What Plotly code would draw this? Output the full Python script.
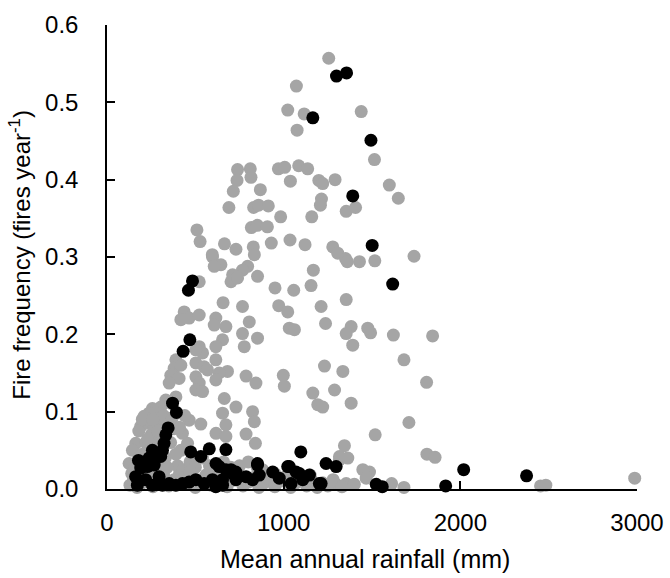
import plotly.graph_objects as go

# Gray series (all sites)
gray_x = [1255, 1072, 1023, 1116, 1439, 1076, 1514,
          739, 811, 736, 815, 970, 1006, 1085, 1136, 1038, 1199, 1221, 1291, 715, 868, 1214, 1208,
          690, 830, 858, 913, 983, 1159, 1354, 1407, 509, 527, 817, 851, 908, 665, 730, 828, 930,
          1036, 1121, 1278, 596,
          1598, 1649, 1738, 1516, 1492, 1621, 1843, 1681, 1809, 1709, 1518, 1811, 1857, 2987,
          2454, 2484, 1611, 1681, 1486,
          1306, 1350, 1360, 1429, 834, 796, 852, 767, 1168, 951, 1057, 1155, 767, 972, 1023, 1212,
          1354, 805, 1032, 1061, 1237, 1382, 1476,
          597, 645, 607, 711, 702, 739, 522, 657, 437, 418, 465, 522, 616, 607, 673, 1354, 1391,
          767, 852, 777, 654, 616, 522, 541, 503, 390, 380, 418, 361, 408, 352, 616, 503, 550,
          569, 682, 635, 616, 787, 843, 503, 522, 503, 541, 998, 1004, 1231, 1335, 1165, 1288,
          1193, 1221, 1382, 664, 730, 654, 824, 834,
          390, 361, 333, 305, 286, 257, 238, 210, 229, 191, 465, 531, 673, 617, 673, 787, 840,
          1344, 427, 456, 418, 163, 144, 181, 125, 153, 1316, 1363, 1448, 1316, 1467, 1297, 1354, 880,
          130, 150, 170, 200, 230, 260, 290, 320, 350, 380, 410, 440, 470, 500, 530, 560, 590,
          620, 650, 680, 710, 740, 770, 800, 830, 860, 890, 920, 950, 980, 1010, 1040, 1070,
          1100, 1130, 1160, 1190, 1220, 1250, 1280, 1330, 1400,
          140, 170, 200, 220, 250, 270, 300, 320, 350, 380, 300, 280, 240, 210, 330, 360, 390,
          400, 430, 470, 500, 540, 580, 620, 660, 700, 750, 800, 850, 950, 1050, 1150,
          180, 200, 230, 260, 290, 330, 370, 410, 440, 260, 290, 310, 340, 440, 470]
gray_y = [0.557, 0.521, 0.490, 0.485, 0.488, 0.464, 0.426,
          0.413, 0.414, 0.399, 0.403, 0.414, 0.416, 0.418, 0.414, 0.398, 0.399, 0.395, 0.400, 0.385, 0.387, 0.375, 0.367,
          0.364, 0.364, 0.367, 0.366, 0.352, 0.352, 0.359, 0.364, 0.335, 0.320, 0.338, 0.341, 0.339, 0.317, 0.310, 0.313, 0.318,
          0.322, 0.316, 0.313, 0.303,
          0.393, 0.376, 0.301, 0.295, 0.202, 0.199, 0.198, 0.167, 0.138, 0.086, 0.070, 0.045, 0.041, 0.014,
          0.004, 0.005, 0.007, 0.002, 0.022,
          0.305, 0.298, 0.294, 0.294, 0.303, 0.288, 0.275, 0.283, 0.283, 0.260, 0.257, 0.263, 0.236, 0.237, 0.229, 0.236,
          0.245, 0.216, 0.208, 0.206, 0.214, 0.210, 0.208,
          0.300, 0.290, 0.288, 0.277, 0.268, 0.273, 0.268, 0.241, 0.229, 0.219, 0.221, 0.225, 0.221, 0.212, 0.210, 0.201, 0.186,
          0.201, 0.195, 0.184, 0.193, 0.184, 0.184, 0.176, 0.180, 0.167, 0.156, 0.160, 0.147, 0.143, 0.137, 0.167, 0.163, 0.158,
          0.154, 0.152, 0.150, 0.141, 0.146, 0.137, 0.145, 0.137, 0.128, 0.126, 0.147, 0.133, 0.159, 0.152, 0.124, 0.128,
          0.109, 0.106, 0.111, 0.117, 0.106, 0.098, 0.100, 0.087,
          0.119, 0.111, 0.115, 0.106, 0.100, 0.104, 0.098, 0.094, 0.085, 0.081, 0.089, 0.084, 0.083, 0.072, 0.068, 0.071, 0.059,
          0.056, 0.072, 0.059, 0.050, 0.059, 0.050, 0.042, 0.033, 0.025, 0.038, 0.040, 0.025, 0.042, 0.014, 0.006, 0.007, 0.025,
          0.005, 0.012, 0.002, 0.008, 0.015, 0.003, 0.010, 0.018, 0.004, 0.012, 0.020, 0.006, 0.014, 0.002, 0.010, 0.018, 0.005,
          0.013, 0.021, 0.003, 0.011, 0.017, 0.004, 0.009, 0.015, 0.002, 0.008, 0.013, 0.003, 0.010, 0.016, 0.002, 0.008,
          0.014, 0.004, 0.011, 0.002, 0.008, 0.004, 0.012, 0.003, 0.006,
          0.020, 0.030, 0.045, 0.060, 0.070, 0.080, 0.088, 0.095, 0.085, 0.078, 0.065, 0.055, 0.040, 0.028, 0.040, 0.060, 0.045,
          0.030, 0.025, 0.035, 0.028, 0.040, 0.030, 0.025, 0.035, 0.028, 0.030, 0.035, 0.028, 0.020, 0.022, 0.018,
          0.075, 0.090, 0.065, 0.090, 0.075, 0.070, 0.092, 0.080, 0.095, 0.020, 0.030, 0.022, 0.028, 0.015, 0.022]

# Black series (subset)
black_x = [1299, 1356, 1165, 1494, 1391, 1501, 1617, 2019, 2375, 1917, 1524, 1558,
           484, 461, 469, 431, 371, 393,
           346, 333, 323, 314, 304, 257, 276, 238, 267, 229, 178, 191,
           474, 531, 579, 673, 1097, 1240, 1297,
           162, 172, 219, 257, 295, 314, 352, 390, 427, 465, 503, 550, 597, 616, 654,
           635, 673, 711, 654, 730, 787, 824, 852, 862, 938, 975, 1032, 1042, 1089, 1108, 1146, 1202,
           617, 702, 730, 852, 1023, 1070, 1212]
black_y = [0.534, 0.538, 0.480, 0.451, 0.379, 0.315, 0.265, 0.025, 0.017, 0.004, 0.006, 0.003,
           0.269, 0.257, 0.193, 0.178, 0.111, 0.099,
           0.079, 0.070, 0.059, 0.050, 0.042, 0.050, 0.042, 0.040, 0.031, 0.029, 0.037, 0.027,
           0.048, 0.042, 0.052, 0.051, 0.048, 0.033, 0.029,
           0.016, 0.005, 0.012, 0.005, 0.016, 0.005, 0.007, 0.005, 0.007, 0.009, 0.012, 0.007, 0.012, 0.003, 0.005,
           0.029, 0.025, 0.020, 0.012, 0.012, 0.016, 0.012, 0.031, 0.018, 0.022, 0.014, 0.029, 0.007, 0.020, 0.012, 0.018, 0.007,
           0.033, 0.025, 0.022, 0.033, 0.029, 0.022, 0.007]

x_ticks = [0, 1000, 2000, 3000]
y_ticks = [0.0, 0.1, 0.2, 0.3, 0.4, 0.5, 0.6]
x_title = "Mean annual rainfall (mm)"
y_title = "Fire frequency (fires year<sup>-1</sup>)"

FONT = "Liberation Sans, Arial, sans-serif"

fig = go.Figure()
fig.add_trace(go.Scatter(x=gray_x, y=gray_y, mode="markers",
                         marker=dict(color="#A5A5A5", size=13, line=dict(width=0)),
                         showlegend=False, cliponaxis=False))
fig.add_trace(go.Scatter(x=black_x, y=black_y, mode="markers",
                         marker=dict(color="#000000", size=13, line=dict(width=0)),
                         showlegend=False, cliponaxis=False))

fig.update_layout(
    width=670, height=578,
    margin=dict(l=107, r=33, t=25, b=89),
    paper_bgcolor="white", plot_bgcolor="white",
    font=dict(family=FONT, size=24, color="#000000"),
    xaxis=dict(range=[0, 3000], tickvals=x_ticks, ticktext=[str(v) for v in x_ticks],
               showgrid=False, zeroline=False, showline=True, linecolor="black", linewidth=1.5,
               ticks="inside", ticklen=8, tickwidth=1.5, tickcolor="black",
               ticklabelstandoff=11, automargin=False),
    yaxis=dict(range=[0, 0.6], tickvals=y_ticks, ticktext=[f"{v:.1f}" for v in y_ticks],
               showgrid=False, zeroline=False, showline=True, linecolor="black", linewidth=1.5,
               ticks="inside", ticklen=8, tickwidth=1.5, tickcolor="black",
               ticklabelstandoff=22, automargin=False),
    annotations=[
        dict(text=x_title, xref="paper", yref="paper", x=0.487, y=-0.151,
             xanchor="center", yanchor="middle", showarrow=False, font=dict(size=25)),
        dict(text=y_title, xref="paper", yref="paper", x=-0.164, y=0.505,
             xanchor="center", yanchor="middle", showarrow=False, textangle=-90,
             font=dict(size=24)),
    ],
)

fig.write_html("out.html", config={"displayModeBar": False},
               post_script="document.body.style.margin='0';document.body.style.overflow='hidden';")
